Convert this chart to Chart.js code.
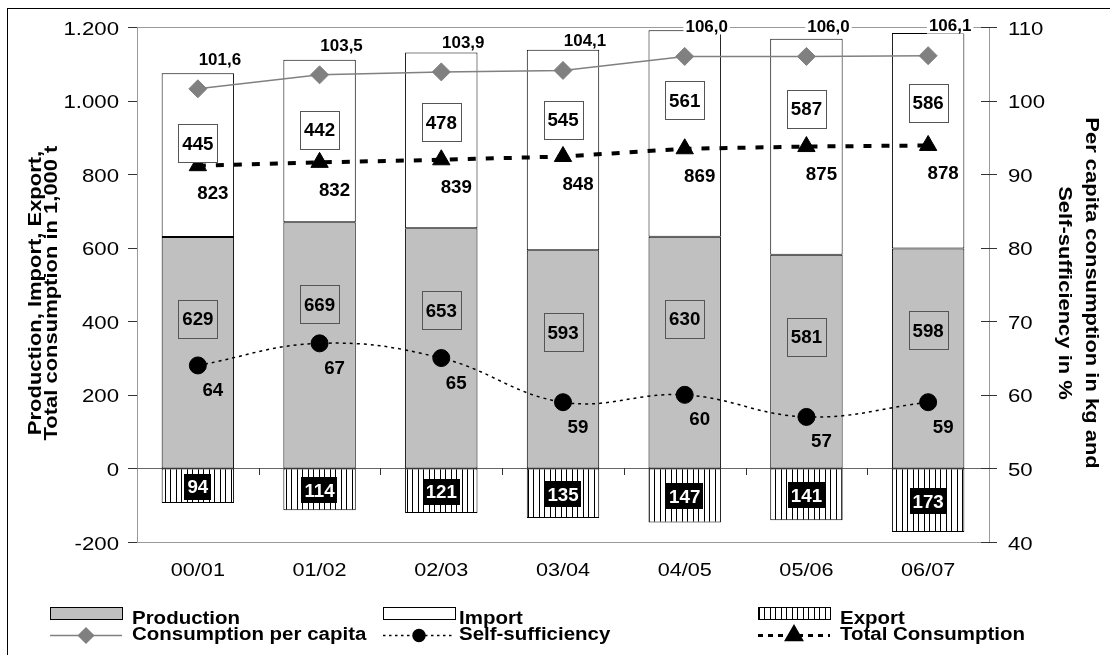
<!DOCTYPE html>
<html>
<head>
<meta charset="utf-8">
<script src="https://cdn.jsdelivr.net/npm/chart.js@4.4.1/dist/chart.umd.min.js"></script>
<style>
  html, body { margin: 0; padding: 0; background: #fff; }
  #wrap { width: 1110px; height: 655px; position: relative; }
</style>
</head>
<body>
<div id="wrap"><canvas id="c" width="1110" height="655"></canvas></div>
<script>
// Marketing years
const seasons = ['00/01', '01/02', '02/03', '03/04', '04/05', '05/06', '06/07'];
// Volumes in 1,000 t
const production = [629, 669, 653, 593, 630, 581, 598];
const imports = [445, 442, 478, 545, 561, 587, 586];
const exportVolume = [94, 114, 121, 135, 147, 141, 173];
const totalConsumption = [823, 832, 839, 848, 869, 875, 878];
// Per capita consumption in kg, self-sufficiency in %
const perCapita = [101.6, 103.5, 103.9, 104.1, 106.0, 106.0, 106.1];
const selfSufficiency = [64, 67, 65, 59, 60, 57, 59];
// Axis ticks
const leftTicks = [-200, 0, 200, 400, 600, 800, 1000, 1200];
const rightTicks = [40, 50, 60, 70, 80, 90, 100, 110];

const FONT = '"Liberation Sans", Arial, sans-serif';

function setFont(ctx, o) {
  ctx.font = (o.bold ? 'bold ' : '') + o.size + 'px ' + FONT;
}
function textWidth(ctx, s, o) {
  ctx.save(); setFont(ctx, o);
  const w = ctx.measureText(s).width * (o.sx || 1);
  ctx.restore();
  return w;
}
// Draws text with its cap height centred on y, optionally stretched and rotated
function txt(ctx, s, x, y, o) {
  ctx.save();
  ctx.translate(x, y);
  if (o.rot) ctx.rotate(o.rot);
  ctx.scale(o.sx || 1, 1);
  setFont(ctx, o);
  ctx.fillStyle = o.color || '#000';
  ctx.textAlign = o.align || 'center';
  ctx.textBaseline = 'alphabetic';
  ctx.fillText(s, 0, o.size * 0.358);
  ctx.restore();
}

const TICK = { size: 18.5, sx: 1.2 };
const CAT = { size: 18.5, sx: 1.17 };
const LEG = { size: 17.5, sx: 1.17, bold: true, align: 'left' };
const TITLE = { size: 18, sx: 1.22, bold: true };
const DATA = { size: 18, sx: 1.04, bold: true };
const DATA_SMALL = { size: 16, sx: 1.06, bold: true };

const fmtThousands = v => String(v).replace(/\B(?=(\d{3})+(?!\d))/g, '.');
const fmtDecimal = v => v.toFixed(1).replace('.', ',');

const canvas = document.getElementById('c');
const ctx = canvas.getContext('2d');

// Vertical stripe fill for the export bars
const pc = document.createElement('canvas');
pc.width = 11; pc.height = 4;
const pctx = pc.getContext('2d');
pctx.fillStyle = '#fff'; pctx.fillRect(0, 0, 11, 4);
pctx.fillStyle = '#000'; pctx.fillRect(0, 0, 1, 4); pctx.fillRect(5, 0, 1, 4);
const stripes = ctx.createPattern(pc, 'repeat');

const GRAY = '#C0C0C0';

const frame = {
  id: 'frame',
  beforeDatasetsDraw(chart) {
    const { ctx, chartArea: a, scales: { y } } = chart;
    ctx.save();
    ctx.strokeStyle = '#9a9a9a'; ctx.lineWidth = 1;
    ctx.strokeRect(Math.round(a.left) + 0.5, Math.round(a.top) + 0.5,
                   Math.round(a.right - a.left), Math.round(a.bottom - a.top));
    const y0 = Math.round(y.getPixelForValue(0)) + 0.5;
    ctx.strokeStyle = '#666';
    ctx.beginPath(); ctx.moveTo(a.left, y0); ctx.lineTo(a.right, y0); ctx.stroke();
    ctx.restore();
  },
  afterDraw(chart) {
    const { ctx, chartArea: a, scales: { x, y, y2 } } = chart;
    ctx.save();
    // outer frame
    ctx.strokeStyle = '#000'; ctx.lineWidth = 1;
    ctx.strokeRect(7.5, 8.5, 1200, 700);

    // axis ticks
    ctx.strokeStyle = '#333';
    ctx.beginPath();
    leftTicks.forEach(v => {
      const py = Math.round(y.getPixelForValue(v)) + 0.5;
      ctx.moveTo(a.left - 9, py); ctx.lineTo(a.left, py);
    });
    rightTicks.forEach(v => {
      const py = Math.round(y2.getPixelForValue(v)) + 0.5;
      ctx.moveTo(a.right - 8, py); ctx.lineTo(a.right + 8, py);
    });
    const y0 = Math.round(y.getPixelForValue(0));
    const step = (a.right - a.left) / seasons.length;
    for (let k = 1; k < seasons.length; k++) {
      const px = Math.round(a.left + k * step) + 0.5;
      ctx.moveTo(px, y0); ctx.lineTo(px, y0 + 7);
    }
    ctx.stroke();

    // tick labels
    leftTicks.forEach(v => txt(ctx, fmtThousands(v), a.left - 18, y.getPixelForValue(v) + 1, { ...TICK, align: 'right' }));
    rightTicks.forEach(v => txt(ctx, String(v), a.right + 19, y2.getPixelForValue(v) + 1, { ...TICK, align: 'left' }));
    seasons.forEach((s, i) => txt(ctx, s, x.getPixelForValue(i), 569, CAT));

    // axis titles
    const cy = 293;
    txt(ctx, 'Production, Import, Export,', 35, cy, { ...TITLE, rot: -Math.PI / 2 });
    txt(ctx, 'Total consumption in 1,000 t', 51, cy, { ...TITLE, rot: -Math.PI / 2 });
    txt(ctx, 'Per capita consumption in kg and', 1092, cy, { ...TITLE, rot: Math.PI / 2 });
    txt(ctx, 'Self-sufficiency in %', 1065, cy, { ...TITLE, rot: Math.PI / 2 });

    // value labels
    seasons.forEach((s, i) => {
      const cx = x.getPixelForValue(i);
      // production
      const py = y.getPixelForValue(production[i]) + 82;
      boxLabel(ctx, String(production[i]), cx, py, null);
      // import
      const iy = y.getPixelForValue(production[i] + imports[i]) + 70;
      boxLabel(ctx, String(imports[i]), cx, iy, '#fff');
      // export
      const ey = (y.getPixelForValue(0) + y.getPixelForValue(-exportVolume[i])) / 2 + 1;
      const et = String(exportVolume[i]);
      const ew = textWidth(ctx, et, DATA) + 6;
      ctx.fillStyle = '#000';
      ctx.fillRect(Math.round(cx - ew / 2), Math.round(ey - 13), Math.round(ew), 26);
      txt(ctx, et, cx, ey, { ...DATA, color: '#fff' });
      // total consumption
      const ty = y.getPixelForValue(totalConsumption[i]);
      txt(ctx, String(totalConsumption[i]), cx + 15, ty + 27, DATA);
      // self-sufficiency
      const sy = y2.getPixelForValue(selfSufficiency[i]);
      txt(ctx, String(selfSufficiency[i]), cx + 15, sy + 24, DATA);
      // per capita
      const cyv = y2.getPixelForValue(perCapita[i]);
      const ct = fmtDecimal(perCapita[i]);
      const cw = textWidth(ctx, ct, DATA_SMALL) + 4;
      ctx.fillStyle = '#fff';
      ctx.fillRect(cx + 22 - cw / 2, cyv - 30 - 8, cw, 16);
      txt(ctx, ct, cx + 22, cyv - 30, DATA_SMALL);
    });

    // legend
    drawLegend(ctx, chart);
    ctx.restore();
  }
};

function boxLabel(ctx, s, cx, cy, fill) {
  const w = 39, h = 38;
  const lx = Math.round(cx - w / 2) + 0.5, ly = Math.round(cy - h / 2) + 0.5;
  if (fill) { ctx.fillStyle = fill; ctx.fillRect(lx, ly, w, h); }
  ctx.strokeStyle = '#555'; ctx.lineWidth = 1;
  ctx.strokeRect(lx, ly, w, h);
  txt(ctx, s, cx, cy, DATA);
}

function drawLegend(ctx, chart) {
  const ds = chart.data.datasets;
  const cols = [50, 383, 758];
  const sw = 72;
  const textX = [132, 459, 840];
  const row1 = 613, row2 = 635;
  // bar swatches
  [0, 1, 2].forEach(k => {
    const d = ds[k];
    ctx.fillStyle = d.backgroundColor;
    ctx.fillRect(cols[k] + 0.5, row1 - 6 + 0.5, sw, 12);
    ctx.strokeStyle = '#000'; ctx.lineWidth = 1;
    ctx.strokeRect(cols[k] + 0.5, row1 - 6 + 0.5, sw, 12);
    txt(ctx, d.label, textX[k], row1 + 5, LEG);
  });
  // line swatches
  [3, 4, 5].forEach((k, j) => {
    const d = ds[k];
    const x0 = cols[j], x1 = cols[j] + sw;
    ctx.save();
    ctx.strokeStyle = d.borderColor;
    ctx.lineWidth = Math.min(d.borderWidth, 3);
    ctx.setLineDash(d.legendDash || []);
    ctx.beginPath(); ctx.moveTo(x0, row2 + 0.5); ctx.lineTo(x1, row2 + 0.5); ctx.stroke();
    ctx.setLineDash([]);
    ctx.fillStyle = d.pointBackgroundColor;
    ctx.strokeStyle = d.pointBorderColor;
    Chart.helpers.drawPoint(ctx, { pointStyle: d.pointStyle, radius: d.legendRadius, borderWidth: 1, rotation: 0 },
                            (x0 + x1) / 2, row2 + 0.5);
    ctx.restore();
    txt(ctx, d.label, textX[j], row2 - 1, LEG);
  });
}

const hiddenScale = {
  grid: { display: false, drawTicks: false, tickLength: 0 },
  ticks: { display: false, padding: 0 },
  title: { display: false }
};

new Chart(ctx, {
  type: 'bar',
  data: {
    labels: seasons,
    datasets: [
      { label: 'Production', data: production, backgroundColor: GRAY, borderColor: '#000',
        borderWidth: 1, borderSkipped: false, yAxisID: 'y', order: 2, stack: 'bars' },
      { label: 'Import', data: imports, backgroundColor: '#fff', borderColor: '#000',
        borderWidth: 1, borderSkipped: false, yAxisID: 'y', order: 2, stack: 'bars' },
      { label: 'Export', data: exportVolume.map(v => -v), backgroundColor: stripes, borderColor: '#000',
        borderWidth: 1, borderSkipped: false, yAxisID: 'y', order: 2, stack: 'bars' },
      { type: 'line', label: 'Consumption per capita', data: perCapita, yAxisID: 'y2', order: 1,
        borderColor: '#808080', borderWidth: 1.5, tension: 0, stack: 'pc',
        pointStyle: 'rectRot', pointRadius: 9, pointBackgroundColor: '#808080', pointBorderColor: '#808080',
        pointBorderWidth: 1, legendRadius: 7.5 },
      { type: 'line', label: 'Self-sufficiency', data: selfSufficiency, yAxisID: 'y2', order: 1,
        borderColor: '#000', borderWidth: 1.5, borderDash: [3, 4], tension: 0.4, stack: 'ss',
        pointStyle: 'circle', pointRadius: 8.5, pointBackgroundColor: '#000', pointBorderColor: '#000',
        pointBorderWidth: 1, legendRadius: 6, legendDash: [2.5, 3.5] },
      { type: 'line', label: 'Total Consumption', data: totalConsumption, yAxisID: 'y', order: 1,
        borderColor: '#000', borderWidth: 4, borderDash: [8, 10], tension: 0, stack: 'tc',
        pointStyle: 'triangle', pointRadius: 10, pointBackgroundColor: '#000', pointBorderColor: '#000',
        pointBorderWidth: 1, legendRadius: 8.5, legendDash: [5, 5] }
    ]
  },
  options: {
    responsive: false,
    animation: false,
    devicePixelRatio: 1,
    events: [],
    layout: { padding: { left: 137, right: 121, top: 27, bottom: 113 } },
    datasets: { bar: { categoryPercentage: 1, barPercentage: 0.595 } },
    plugins: { legend: { display: false }, tooltip: { enabled: false } },
    scales: {
      x: { ...hiddenScale, stacked: true, offset: true, border: { display: false } },
      y: { ...hiddenScale, position: 'left', stacked: true,
           min: leftTicks[0], max: leftTicks[leftTicks.length - 1],
           afterBuildTicks: s => { s.ticks = leftTicks.map(v => ({ value: v })); },
           border: { display: true, color: '#333', width: 1 } },
      y2: { ...hiddenScale, position: 'right', stacked: false,
            min: rightTicks[0], max: rightTicks[rightTicks.length - 1],
            afterBuildTicks: s => { s.ticks = rightTicks.map(v => ({ value: v })); },
            border: { display: true, color: '#333', width: 1 } }
    }
  },
  plugins: [frame]
});
</script>
</body>
</html>
